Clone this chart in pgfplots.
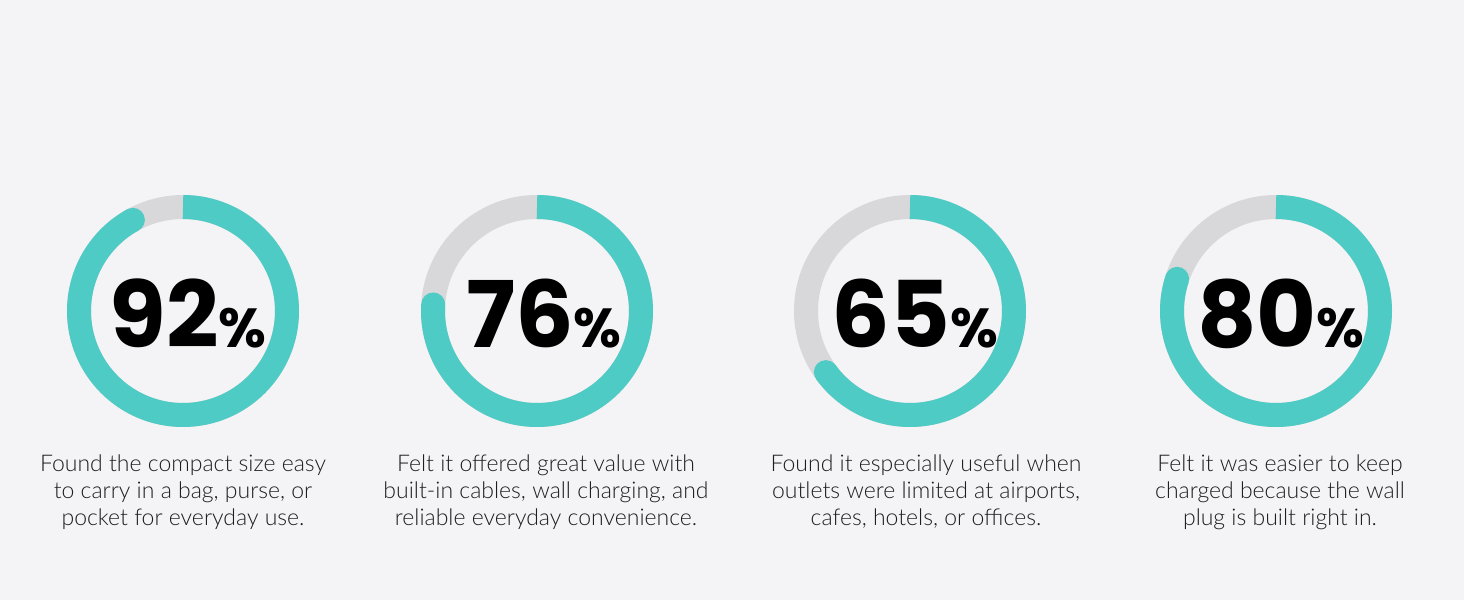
\documentclass[border=0pt]{standalone}
\usepackage{pgfplots}
\usepackage{pgfplotstable}
\pgfplotsset{compat=1.18}
\usepackage{fontspec}
\setmainfont{Lato}
\newfontfamily\numfont{Poppins}[UprightFont=* Bold]
\newfontfamily\capfont{Lato Light}
\definecolor{bgcol}{HTML}{F4F4F6}
\definecolor{ringteal}{HTML}{4ECBC4}
\definecolor{trackgray}{HTML}{D8D8DA}
\definecolor{captxt}{HTML}{1E1E1E}

% cx: ring centre, tx: centre of the percentage and caption text (pixels)
\pgfplotstableread{
cx   tx    value
183  188   92
537  544   76
910  915   65
1276 1281  80
}\ringdata

\begin{document}
\begin{tikzpicture}
\fill[bgcol] (0,0) rectangle (1464bp,600bp);
\useasboundingbox (0,0) rectangle (1464bp,600bp);
\begin{axis}[at={(0,0)}, anchor=south west, scale only axis,
  width=1464bp, height=600bp, xmin=0, xmax=1464, ymin=0, ymax=600,
  hide axis, clip=false]
\pgfplotsforeachungrouped \i in {0,...,3}{%
  \pgfplotstablegetelem{\i}{cx}\of\ringdata \let\cx\pgfplotsretval
  \pgfplotstablegetelem{\i}{tx}\of\ringdata \let\tx\pgfplotsretval
  \pgfplotstablegetelem{\i}{value}\of\ringdata \let\val\pgfplotsretval
  \edef\temp{%
    \noexpand\draw[trackgray, line width=24bp] (axis cs:\cx,289) circle[radius=104bp];
    \noexpand\draw[ringteal, line width=24bp, line cap=butt]
      ([shift={(90:104bp)}]axis cs:\cx,289) arc[start angle=90, delta angle={-3.6*\val}, radius=104bp];
    \noexpand\fill[ringteal] ([shift={({90-3.6*\val}:104bp)}]axis cs:\cx,289) circle[radius=12bp];
    \noexpand\node[anchor=base, inner sep=0pt, text=black] at (axis cs:\tx,252)
      {\noexpand\numfont\noexpand\fontsize{92bp}{92bp}\noexpand\selectfont \val\noexpand\fontsize{55bp}{55bp}\noexpand\selectfont\noexpand\%};
  }%
  \temp
}
\end{axis}
\begin{scope}[every node/.style={anchor=base, inner sep=0pt, text=captxt,
    font=\capfont\fontsize{23bp}{27bp}\selectfont}]
\node at (183bp,128bp) {Found the compact size easy};
\node at (183bp,101bp) {to carry in a bag, purse, or};
\node at (183bp,74bp)  {pocket for everyday use.};
\node at (546bp,128bp) {Felt it offered great value with};
\node at (546bp,101bp) {built-in cables, wall charging, and};
\node at (546bp,74bp)  {reliable everyday convenience.};
\node at (926bp,128bp) {Found it especially useful when};
\node at (926bp,101bp) {outlets were limited at airports,};
\node at (926bp,74bp)  {cafes, hotels, or offices.};
\node at (1280bp,128bp) {Felt it was easier to keep};
\node at (1280bp,101bp) {charged because the wall};
\node at (1280bp,74bp)  {plug is built right in.};
\end{scope}
\end{tikzpicture}
\end{document}
